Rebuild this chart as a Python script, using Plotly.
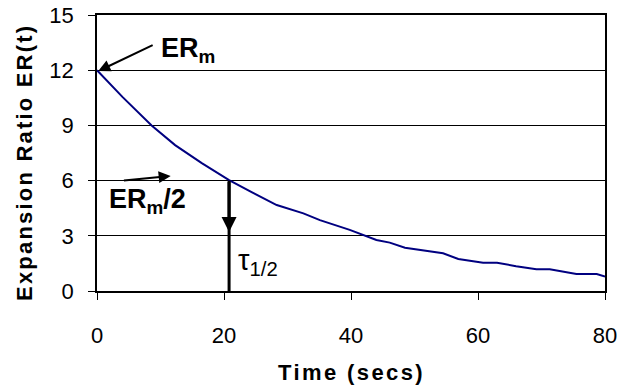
import plotly.graph_objects as go

time_s = [0, 4, 8.6, 12.3, 16.5, 20.8, 24.5, 28.3, 32.5, 35.1, 39.8, 44.0, 46.1, 48.5,
          54.5, 56.9, 60.8, 63.0, 66.0, 69.2, 71.3, 75.5, 77.6, 78.7, 80]
er = [12.0, 10.55, 9.0, 7.93, 6.95, 6.03, 5.35, 4.67, 4.22, 3.85, 3.32, 2.77, 2.63, 2.35,
      2.05, 1.74, 1.54, 1.54, 1.35, 1.18, 1.18, 0.92, 0.92, 0.92, 0.78]

x_ticks = [0, 20, 40, 60, 80]
y_ticks = [0, 3, 6, 9, 12, 15]

er_max = 12.0
tau_half = 20.8
half_val = er_max / 2

FONT = "Liberation Sans, Arial, sans-serif"

fig = go.Figure()
fig.add_trace(go.Scatter(x=time_s, y=er, mode="lines",
                         line=dict(color="#000080", width=2), showlegend=False,
                         hoverinfo="skip"))

# vertical line at tau_1/2
fig.add_shape(type="line", x0=tau_half, x1=tau_half, y0=half_val, y1=0,
              line=dict(color="black", width=3), xref="x", yref="y")

ann = []
# arrow to ER_m
ann.append(dict(x=0.2, y=er_max - 0.05, ax=9.0, ay=13.4, xref="x", yref="y",
                axref="x", ayref="y", text="", showarrow=True, arrowhead=2,
                arrowsize=1.2, arrowwidth=2, arrowcolor="black"))
ann.append(dict(x=9.8, y=13.1, xref="x", yref="y", text="<b>ER<sub>m</sub></b>",
                showarrow=False, xanchor="left", yanchor="middle",
                font=dict(family=FONT, size=27, color="black")))
# arrow towards ER_m/2
ann.append(dict(x=11.6, y=6.25, ax=4.0, ay=6.0, xref="x", yref="y",
                axref="x", ayref="y", text="", showarrow=True, arrowhead=2,
                arrowsize=1.2, arrowwidth=2, arrowcolor="black"))
ann.append(dict(x=1.6, y=4.9, xref="x", yref="y", text="<b>ER<sub>m</sub>/2</b>",
                showarrow=False, xanchor="left", yanchor="middle",
                font=dict(family=FONT, size=27, color="black")))
# downward arrow head on the tau line
ann.append(dict(x=tau_half, y=3.2, ax=tau_half, ay=half_val, xref="x", yref="y",
                axref="x", ayref="y", text="", showarrow=True, arrowhead=2,
                arrowsize=1.0, arrowwidth=3, arrowcolor="black"))
ann.append(dict(x=tau_half + 1.1, y=1.6, xref="x", yref="y", text="τ<sub>1/2</sub>",
                showarrow=False, xanchor="left", yanchor="middle",
                font=dict(family=FONT, size=29, color="black")))
# axis titles
ann.append(dict(x=0.5, y=-0.297, xref="paper", yref="paper",
                text="<span style='letter-spacing:2.4px'><b>Time (secs)</b></span>",
                showarrow=False, xanchor="center", yanchor="middle",
                font=dict(family=FONT, size=22, color="black")))
ann.append(dict(x=-0.144, y=0.467, xref="paper", yref="paper",
                text="<span style='letter-spacing:2.2px'><b>Expansion Ratio ER(t)</b></span>",
                showarrow=False, xanchor="center", yanchor="middle", textangle=-90,
                font=dict(family=FONT, size=22, color="black")))

fig.update_layout(
    width=619, height=387,
    margin=dict(l=97, r=14, t=15, b=96, autoexpand=False),
    paper_bgcolor="white", plot_bgcolor="white",
    annotations=ann,
    font=dict(family=FONT, color="black"),
)
fig.update_xaxes(range=[0, 80], tickvals=x_ticks, ticks="outside", ticklen=7,
                 tickwidth=1.3, tickcolor="black", showgrid=False, zeroline=False,
                 showline=True, linecolor="black", linewidth=1.5, mirror=True,
                 tickfont=dict(family=FONT, size=22, color="black"),
                 ticklabelstandoff=17, automargin=False)
fig.update_yaxes(range=[0, 15], tickvals=y_ticks, ticks="outside", ticklen=7,
                 tickwidth=1.3, tickcolor="black", showgrid=True, gridcolor="black",
                 gridwidth=1.3, zeroline=False, showline=True, linecolor="black",
                 linewidth=1.5, mirror=True,
                 tickfont=dict(family=FONT, size=22, color="black"),
                 ticklabelstandoff=10, automargin=False)

fig.write_html("out.html")
